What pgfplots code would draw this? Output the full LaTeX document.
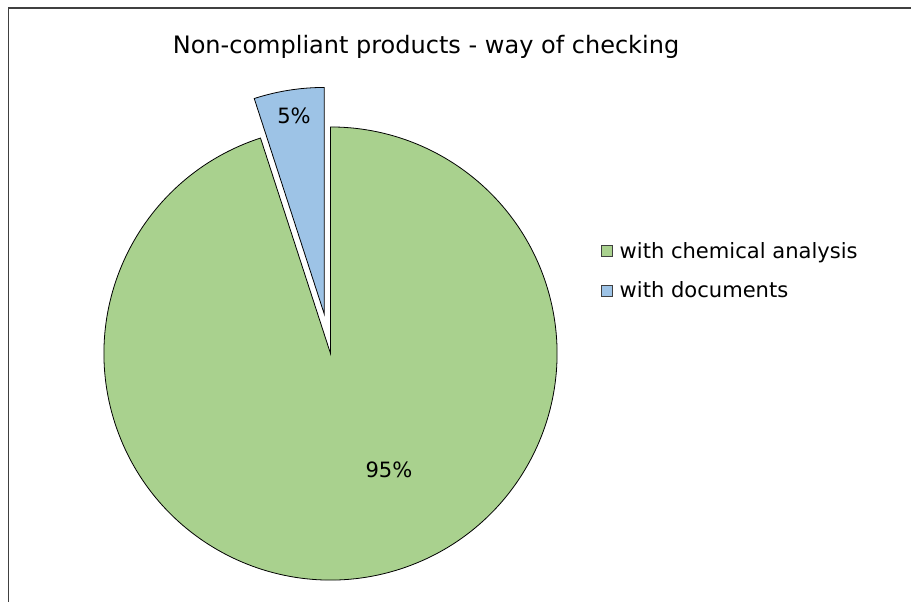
\documentclass[border=0pt]{standalone}
\usepackage{pgfplots}
\pgfplotsset{compat=1.18}
\usepackage{pgfplotstable}
\usetikzlibrary{calc}
\usepackage{fontspec}
\setmainfont{DejaVu Sans}

\definecolor{pieGreen}{RGB}{169,209,142}
\definecolor{pieBlue}{RGB}{157,195,230}
\definecolor{frameGray}{RGB}{64,64,64}

% share of non-compliant products by way of checking
\pgfplotstableread{
label value
{with chemical analysis} 95
{with documents} 5
}\piedata

\pgfplotstablegetelem{0}{value}\of\piedata \let\vchem\pgfplotsretval
\pgfplotstablegetelem{1}{value}\of\piedata \let\vdoc\pgfplotsretval
\pgfmathsetmacro\total{\vchem+\vdoc}
\pgfmathsetmacro\angdoc{360*\vdoc/\total}
\pgfmathsetmacro\angsplit{90+\angdoc}
\pgfmathsetmacro\angmid{90+\angdoc/2}

% 1 px = 0.75pt
\def\rad{169.9pt}
\def\lblfont{\fontsize{15.8}{18}\selectfont}

\begin{document}
\begin{tikzpicture}
\begin{axis}[
    x=0.75pt, y=0.75pt,
    xmin=0, xmax=911, ymin=0, ymax=602,
    hide axis,
    clip=false,
    legend style={
      draw=none, fill=none,
      at={(axis cs:597,331)}, anchor=west,
      font=\lblfont,
      row sep=12pt,
      cells={anchor=west},
      /tikz/every odd column/.append style={column sep=3pt},
    },
    legend image code/.code={%
      \draw[#1] (0pt,-4.1pt) rectangle (8.2pt,4.1pt);
    },
  ]
  % legend entries
  \addlegendimage{draw=frameGray, fill=pieGreen, line width=0.6pt}
  \addlegendentry{with chemical analysis}
  \addlegendimage{draw=frameGray, fill=pieBlue, line width=0.6pt}
  \addlegendentry{with documents}

  % green slice
  \filldraw[fill=pieGreen, draw=black, line width=0.6pt]
    (axis cs:330.5,248.5) -- ++(\angsplit:\rad)
    arc[start angle=\angsplit, end angle=450, radius=\rad] -- cycle;
  % blue slice, pulled out
  \filldraw[fill=pieBlue, draw=black, line width=0.6pt]
    ($(axis cs:330.5,248.5)+(\angmid:30pt)$) -- ++(90:\rad)
    arc[start angle=90, end angle=\angsplit, radius=\rad] -- cycle;

  \node[font=\lblfont] at (axis cs:294,486) {\vdoc\%};
  \node[font=\lblfont] at (axis cs:389,132) {\vchem\%};

  \node[font=\fontsize{18}{21}\selectfont] at (axis cs:426,555) {Non-compliant products - way of checking};

  % chart area frame (left and top edges visible)
  \draw[frameGray, line width=1.2pt] (axis cs:8.5,0) -- (axis cs:8.5,594) -- (axis cs:911,594);
\end{axis}
\pgfresetboundingbox
\useasboundingbox (0,0) rectangle (683.25pt,451.5pt);
\end{tikzpicture}
\end{document}
